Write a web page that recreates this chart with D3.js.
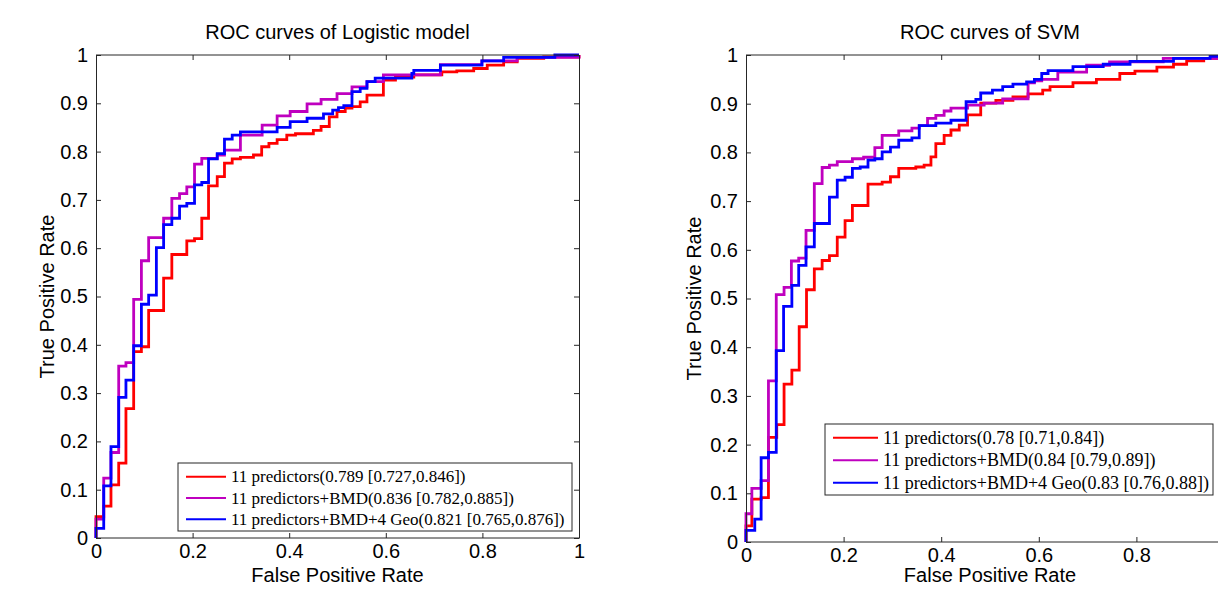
<!DOCTYPE html>
<html>
<head>
<meta charset="utf-8">
<script src="https://cdn.jsdelivr.net/npm/d3@7"></script>
<style>
  html, body { margin: 0; padding: 0; background: #fff; overflow: hidden; }
  svg { display: block; }
</style>
</head>
<body>
<svg id="chart" width="1218" height="590"></svg>
<script>
// ---------------- DATA ----------------
const fprTicks = [0, 0.2, 0.4, 0.6, 0.8, 1];
const tprTicks = [0, 0.1, 0.2, 0.3, 0.4, 0.5, 0.6, 0.7, 0.8, 0.9, 1];
const fprTickLabels = ["0", "0.2", "0.4", "0.6", "0.8", "1"];
const tprTickLabels = ["0", "0.1", "0.2", "0.3", "0.4", "0.5", "0.6", "0.7", "0.8", "0.9", "1"];

const panelTitles = ["ROC curves of Logistic model", "ROC curves of SVM"];
const seriesNames = ["11 predictors", "11 predictors+BMD", "11 predictors+BMD+4 Geo"];
const seriesColors = ["#ff0000", "#bf00bf", "#0000ff"];
const logisticLegend = [
  "11 predictors(0.789 [0.727,0.846])",
  "11 predictors+BMD(0.836 [0.782,0.885])",
  "11 predictors+BMD+4 Geo(0.821 [0.765,0.876])"
];
const svmLegend = [
  "11 predictors(0.78 [0.71,0.84])",
  "11 predictors+BMD(0.84 [0.79,0.89])",
  "11 predictors+BMD+4 Geo(0.83 [0.76,0.88])"
];

// [FPR, TPR] step corners (vertical jump at FPR to TPR)
const logisticRed = [[0,0],[0,.044],[.016,.066],[.031,.110],[.047,.155],[.062,.268],[.078,.386],[.094,.396],[.109,.471],[.140,.538],[.157,.587],[.188,.615],[.204,.620],[.219,.662],[.233,.729],[.251,.748],[.266,.776],[.282,.785],[.299,.788],[.326,.793],[.343,.810],[.358,.817],[.375,.825],[.395,.834],[.413,.837],[.450,.844],[.466,.852],[.483,.872],[.499,.883],[.516,.890],[.530,.893],[.547,.903],[.561,.917],[.595,.948],[.620,.954],[.658,.959],[.716,.965],[.747,.967],[.782,.972],[.810,.979],[.844,.986],[.872,.993],[.927,.996],[1,1]];
const logisticMagenta = [[0,0],[0,.039],[.016,.124],[.031,.177],[.047,.356],[.062,.363],[.078,.494],[.094,.574],[.109,.622],[.140,.662],[.157,.703],[.173,.713],[.188,.727],[.204,.774],[.219,.786],[.251,.793],[.266,.803],[.299,.834],[.344,.855],[.375,.874],[.402,.883],[.437,.899],[.466,.908],[.499,.920],[.530,.934],[.561,.945],[.595,.959],[.713,.980],[.799,.988],[.872,.995],[1,1]];
const logisticBlue = [[0,0],[0,.020],[.016,.108],[.031,.189],[.047,.291],[.062,.327],[.078,.398],[.094,.484],[.109,.503],[.125,.601],[.140,.649],[.157,.662],[.173,.687],[.188,.693],[.204,.731],[.219,.736],[.233,.785],[.251,.796],[.266,.826],[.282,.834],[.299,.841],[.375,.850],[.402,.862],[.437,.869],[.471,.878],[.490,.886],[.502,.891],[.513,.895],[.530,.924],[.547,.931],[.561,.945],[.578,.952],[.654,.962],[.658,.968],[.713,.979],[.799,.988],[.844,.995],[.950,1],[1,1]];

const svmRed = [[0,0],[0,.033],[.012,.088],[.031,.091],[.046,.215],[.063,.241],[.078,.324],[.094,.353],[.109,.442],[.124,.518],[.140,.561],[.156,.578],[.171,.588],[.187,.626],[.203,.660],[.218,.691],[.250,.735],[.279,.739],[.296,.750],[.313,.767],[.348,.770],[.365,.774],[.379,.791],[.389,.818],[.406,.835],[.420,.846],[.437,.856],[.454,.877],[.481,.901],[.512,.907],[.547,.914],[.578,.920],[.608,.928],[.623,.935],[.670,.943],[.718,.950],[.766,.962],[.797,.967],[.842,.975],[.876,.981],[.903,.988],[.938,.993],[.972,.998],[1,1]];
const svmMagenta = [[0,0],[0,.058],[.012,.110],[.031,.126],[.046,.331],[.062,.508],[.078,.523],[.093,.577],[.108,.583],[.123,.640],[.140,.736],[.156,.769],[.171,.774],[.187,.781],[.218,.787],[.241,.790],[.264,.810],[.279,.835],[.313,.844],[.340,.850],[.355,.855],[.372,.870],[.389,.876],[.406,.885],[.420,.891],[.454,.897],[.488,.901],[.526,.910],[.578,.943],[.591,.947],[.606,.950],[.639,.965],[.698,.979],[.745,.986],[.855,.993],[.970,.998],[1,1]];
const svmBlue = [[0,0],[0,.024],[.018,.047],[.031,.173],[.046,.184],[.062,.393],[.077,.484],[.094,.527],[.108,.568],[.123,.606],[.140,.654],[.171,.708],[.187,.743],[.203,.749],[.218,.767],[.234,.770],[.250,.784],[.264,.787],[.279,.801],[.296,.811],[.313,.825],[.340,.830],[.355,.855],[.389,.860],[.420,.866],[.451,.904],[.471,.909],[.481,.922],[.505,.928],[.526,.935],[.547,.940],[.575,.945],[.591,.950],[.606,.962],[.619,.968],[.670,.976],[.732,.981],[.787,.987],[.876,.993],[.951,.997],[1,1]];

// ---------------- LAYOUT ----------------
const W = 1218;
const panels = [
  { title: panelTitles[0], series: [logisticRed, logisticMagenta, logisticBlue], legend: logisticLegend,
    x0: 96, y0: 55, w: 483, h: 483, ylabX: 47,
    lg: { x: 178, y: 463, w: 394, h: 68, row: 21.3, first: 13.7, line: [8, 48], textX: 53, fs: 17 } },
  { title: panelTitles[1], series: [svmRed, svmMagenta, svmBlue], legend: svmLegend,
    x0: 746, y0: 55, w: 488, h: 487, ylabX: 694,
    lg: { x: 825, y: 424, w: 388, h: 71, row: 22.5, first: 13.7, line: [8, 53], textX: 58, fs: 18 } }
];

const svg = d3.select("#chart");
const sansFont = '"Liberation Sans", Arial, sans-serif';
const serifFont = '"Liberation Serif", "Times New Roman", serif';
const frameColor = "#262626";

panels.forEach(p => {
  const x = d3.scaleLinear().domain([0, 1]).range([p.x0, p.x0 + p.w]);
  const y = d3.scaleLinear().domain([0, 1]).range([p.y0 + p.h, p.y0]);
  const g = svg.append("g");

  // curves
  const line = d3.line().x(d => x(d[0])).y(d => y(d[1])).curve(d3.curveStepAfter);
  p.series.forEach((s, i) => {
    g.append("path").datum(s)
      .attr("d", line)
      .attr("fill", "none")
      .attr("stroke", seriesColors[i])
      .attr("stroke-width", 2.8)
      .attr("stroke-linejoin", "miter");
  });

  // axes (inward ticks on all sides); labels that would fall outside the page are not drawn
  const visibleX = fprTicks.filter(v => x(v) + 6 <= W);
  const bottom = d3.axisBottom(x).tickValues(visibleX).tickFormat(d => fprTickLabels[fprTicks.indexOf(d)])
    .tickSizeInner(-5).tickSizeOuter(0).tickPadding(6);
  const top = d3.axisTop(x).tickValues(visibleX).tickFormat("").tickSizeInner(-5).tickSizeOuter(0);
  const left = d3.axisLeft(y).tickValues(tprTicks).tickFormat((d, i) => tprTickLabels[i])
    .tickSizeInner(-5).tickSizeOuter(0).tickPadding(8);
  const right = d3.axisRight(y).tickValues(tprTicks).tickFormat("").tickSizeInner(-5).tickSizeOuter(0);

  const styleAxis = sel => {
    sel.selectAll("path, line").attr("stroke", frameColor).attr("stroke-width", 1);
    sel.selectAll("text").attr("fill", "#000").style("font-size", "20px").style("font-family", sansFont);
  };
  const gb = g.append("g").attr("transform", `translate(0,${p.y0 + p.h})`).call(bottom).call(styleAxis);
  const gt = g.append("g").attr("transform", `translate(0,${p.y0})`).call(top).call(styleAxis);
  // full-length frame lines along top/bottom
  [gb, gt].forEach(a => a.select("path.domain").attr("d", `M${p.x0},0H${p.x0 + p.w}`));
  g.append("g").attr("transform", `translate(${p.x0},0)`).call(left).call(styleAxis);
  g.append("g").attr("transform", `translate(${p.x0 + p.w},0)`).call(right).call(styleAxis);

  // title
  g.append("text")
    .attr("x", p.x0 + p.w / 2).attr("y", 39)
    .attr("text-anchor", "middle")
    .style("font-family", sansFont).style("font-size", "20px")
    .attr("fill", "#000")
    .text(p.title);

  // axis labels
  g.append("text")
    .attr("x", p.x0 + p.w / 2).attr("y", 582)
    .attr("text-anchor", "middle")
    .style("font-family", sansFont).style("font-size", "20px")
    .attr("fill", "#000")
    .text("False Positive Rate");
  g.append("text")
    .attr("transform", `translate(${p.ylabX},${p.y0 + p.h / 2}) rotate(-90)`)
    .attr("text-anchor", "middle")
    .attr("dy", "0.35em")
    .style("font-family", sansFont).style("font-size", "20px")
    .attr("fill", "#000")
    .text("True Positive Rate");

  // legend
  const L = p.lg;
  const lg = g.append("g").attr("transform", `translate(${L.x},${L.y})`);
  lg.append("rect").attr("width", L.w).attr("height", L.h)
    .attr("fill", "#fff").attr("stroke", frameColor).attr("stroke-width", 1);
  p.legend.forEach((t, i) => {
    const cy = L.first + i * L.row;
    lg.append("line").attr("x1", L.line[0]).attr("x2", L.line[1]).attr("y1", cy).attr("y2", cy)
      .attr("stroke", seriesColors[i]).attr("stroke-width", 2);
    lg.append("text").attr("x", L.textX).attr("y", cy).attr("dy", "0.33em")
      .style("font-family", serifFont).style("font-size", L.fs + "px")
      .attr("fill", "#000")
      .text(t);
  });
});
</script>
</body>
</html>
